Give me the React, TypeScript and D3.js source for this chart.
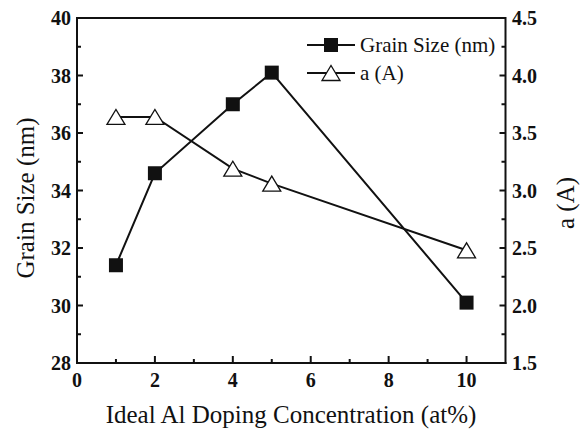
import React from "react";
import * as d3 from "d3";

const concentration = [1, 2, 4, 5, 10];
const grainSize = [31.4, 34.6, 37.0, 38.1, 30.1];
const latticeA = [3.64, 3.64, 3.19, 3.06, 2.48];
const xTicks = [0, 2, 4, 6, 8, 10];
const xMinor = [1, 3, 5, 7, 9];
const yLeftTicks = [28, 30, 32, 34, 36, 38, 40];
const yLeftMinor = [29, 31, 33, 35, 37, 39];
const yRightTicks = [1.5, 2.0, 2.5, 3.0, 3.5, 4.0, 4.5];
const yRightMinor = [1.75, 2.25, 2.75, 3.25, 3.75, 4.25];

const W = 584;
const H = 433;
const L = 77, R = 505.5, T = 18, B = 363;
const FONT = "Times New Roman, Liberation Serif, DejaVu Serif, serif";
const INK = "#111";

export default function App() {
  const x = d3.scaleLinear().domain([0, 11]).range([L, R]);
  const yL = d3.scaleLinear().domain([28, 40]).range([B, T]);
  const yR = d3.scaleLinear().domain([1.5, 4.5]).range([B, T]);

  const lineG = d3.line<number>().x((_, i) => x(concentration[i])).y((d) => yL(d));
  const lineA = d3.line<number>().x((_, i) => x(concentration[i])).y((d) => yR(d));

  const sq = 14;
  const tri = (cx: number, cy: number) => {
    const w = 18, h = 15;
    return `M${cx - w / 2},${cy + h / 2} L${cx + w / 2},${cy + h / 2} L${cx},${cy - h / 2} Z`;
  };
  const txt = { fontFamily: FONT, fill: INK } as React.CSSProperties;

  return (
    <svg width={W} height={H} style={{ position: "absolute", left: 0, top: 0, background: "#fff", fontFamily: FONT }}>
      <rect x={0} y={0} width={W} height={H} fill="#fff" />
      {/* frame */}
      <line x1={L} y1={T} x2={R} y2={T} stroke={INK} strokeWidth={2} />
      <line x1={L} y1={T - 1} x2={L} y2={B + 1} stroke={INK} strokeWidth={2} />
      <line x1={R} y1={T - 1} x2={R} y2={B + 1} stroke={INK} strokeWidth={2} />
      <line x1={L - 1} y1={B} x2={R + 1} y2={B} stroke={INK} strokeWidth={2} />

      {/* x ticks */}
      {xTicks.map((t) => (
        <g key={"xt" + t}>
          <line x1={x(t)} x2={x(t)} y1={B} y2={B - 7} stroke={INK} strokeWidth={2} />
          <text x={x(t)} y={387} textAnchor="middle" style={txt} fontWeight="bold" fontSize={20}>
            {t}
          </text>
        </g>
      ))}
      {xMinor.map((t) => (
        <line key={"xm" + t} x1={x(t)} x2={x(t)} y1={B} y2={B - 4} stroke={INK} strokeWidth={2} />
      ))}

      {/* left ticks */}
      {yLeftTicks.map((t) => (
        <g key={"yl" + t}>
          <line x1={L} x2={L + 6} y1={yL(t)} y2={yL(t)} stroke={INK} strokeWidth={2} />
          <text x={71} y={yL(t) + 7} textAnchor="end" style={txt} fontWeight="bold" fontSize={20}>
            {t}
          </text>
        </g>
      ))}
      {yLeftMinor.map((t) => (
        <line key={"ylm" + t} x1={L} x2={L + 4} y1={yL(t)} y2={yL(t)} stroke={INK} strokeWidth={2} />
      ))}

      {/* right ticks */}
      {yRightTicks.map((t) => (
        <g key={"yr" + t}>
          <line x1={R} x2={R - 6} y1={yR(t)} y2={yR(t)} stroke={INK} strokeWidth={2} />
          <text x={512} y={yR(t) + 7} textAnchor="start" style={txt} fontWeight="bold" fontSize={20}>
            {t.toFixed(1)}
          </text>
        </g>
      ))}
      {yRightMinor.map((t) => (
        <line key={"yrm" + t} x1={R} x2={R - 4} y1={yR(t)} y2={yR(t)} stroke={INK} strokeWidth={2} />
      ))}

      {/* series lines */}
      <path d={lineG(grainSize) || ""} fill="none" stroke={INK} strokeWidth={2} />
      <path d={lineA(latticeA) || ""} fill="none" stroke={INK} strokeWidth={2} />

      {/* markers */}
      {latticeA.map((v, i) => (
        <path key={"ta" + i} d={tri(x(concentration[i]), yR(v))} fill="#fff" stroke={INK} strokeWidth={1.3} />
      ))}
      {grainSize.map((v, i) => (
        <rect key={"sg" + i} x={x(concentration[i]) - sq / 2} y={yL(v) - sq / 2} width={sq} height={sq} fill={INK} />
      ))}

      {/* legend */}
      <line x1={307} x2={355} y1={45} y2={45} stroke={INK} strokeWidth={2} />
      <rect x={331 - sq / 2} y={45 - sq / 2} width={sq} height={sq} fill={INK} />
      <text x={360} y={52} style={txt} fontSize={21}>Grain Size (nm)</text>
      <line x1={307} x2={355} y1={73} y2={73} stroke={INK} strokeWidth={2} />
      <path d={tri(331, 73)} fill="#fff" stroke={INK} strokeWidth={1.3} />
      <text x={360} y={80} style={txt} fontSize={21}>a (A)</text>

      {/* axis titles */}
      <text x={291} y={423} textAnchor="middle" style={txt} fontSize={25}>
        Ideal Al Doping Concentration (at%)
      </text>
      <text transform="translate(34,198) rotate(-90)" textAnchor="middle" style={txt} fontSize={25}>
        Grain Size (nm)
      </text>
      <text transform="translate(574,203) rotate(-90)" textAnchor="middle" style={txt} fontSize={25}>
        a (A)
      </text>
    </svg>
  );
}
